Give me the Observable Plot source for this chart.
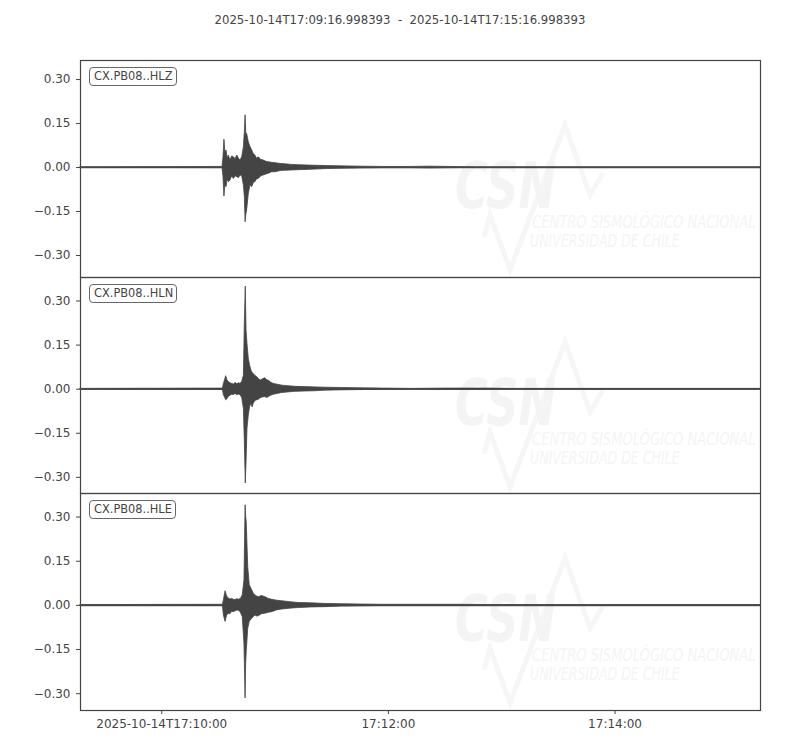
<!DOCTYPE html>
<html><head><meta charset="utf-8">
<script src="https://cdn.jsdelivr.net/npm/d3@7"></script>
<script src="https://cdn.jsdelivr.net/npm/@observablehq/plot@0.6"></script>
<style>
body{margin:0;background:#fff;font-family:"DejaVu Sans",sans-serif;}
#wrap{position:relative;width:800px;height:750px;overflow:hidden;}
#title{position:absolute;top:13px;left:0;width:800px;text-align:center;font-size:11.7px;color:#444;white-space:pre;}
.panel{position:absolute;left:0;z-index:1;}
.wm{position:absolute;left:0;z-index:0;}
.lbl{position:absolute;left:89px;z-index:2;border:1.3px solid #666;border-radius:4px;background:#fff;color:#444;font-size:11.4px;line-height:17px;padding:0 3px 0 4px;font-family:"DejaVu Sans",sans-serif;}
</style></head><body>
<div id="wrap"><div id="title"></div></div>
<script>
// ---- data ----
const startTime = "2025-10-14T17:09:16.998393";
const endTime = "2025-10-14T17:15:16.998393";
const channels = ["CX.PB08..HLZ", "CX.PB08..HLN", "CX.PB08..HLE"];
const xTickTimes = ["2025-10-14T17:10:00", "2025-10-14T17:12:00", "2025-10-14T17:14:00"];
const xTickLabels = ["2025-10-14T17:10:00", "17:12:00", "17:14:00"];
const yTicks = [-0.30, -0.15, 0.00, 0.15, 0.30];
const yDomains = [[-0.375, 0.365], [-0.355, 0.38], [-0.357, 0.38]];

// envelope of each trace: seconds after start, max and min amplitude
const hlzTime = [0,75.2,75.7,76.2,76.7,77.3,77.9,78.5,79.4,80.3,81.2,82.1,83.0,83.9,84.7,85.6,86.5,87.0,87.4,87.8,88.2,89.1,90.0,90.9,91.8,92.6,93.5,94.4,95.7,97.0,98.3,99.7,101.5,103.2,106,108.5,112,115.6,120,124.4,131,137.6,148,160,175,185,196,210,360];
const hlzMax  = [0.001,0.002,0.035,0.095,0.050,0.058,0.030,0.041,0.024,0.038,0.035,0.028,0.041,0.030,0.024,0.035,0.069,0.120,0.178,0.110,0.115,0.086,0.070,0.058,0.045,0.041,0.030,0.035,0.026,0.024,0.020,0.018,0.016,0.015,0.012,0.011,0.009,0.008,0.007,0.006,0.005,0.004,0.003,0.002,0.002,0.003,0.002,0.001,0.001];
const hlzMin  = [-0.001,-0.002,-0.033,-0.099,-0.060,-0.067,-0.040,-0.050,-0.044,-0.030,-0.039,-0.030,-0.033,-0.036,-0.027,-0.030,-0.061,-0.100,-0.187,-0.160,-0.147,-0.090,-0.060,-0.067,-0.052,-0.050,-0.040,-0.039,-0.030,-0.027,-0.024,-0.021,-0.016,-0.016,-0.012,-0.011,-0.010,-0.009,-0.008,-0.007,-0.005,-0.004,-0.003,-0.002,-0.002,-0.003,-0.002,-0.001,-0.001];

const hlnTime = [0,75.4,75.9,76.5,77.1,77.8,78.5,79.4,80.3,81.2,82.1,83.0,83.9,84.7,85.6,86.5,87.0,87.5,87.9,88.4,89.1,89.8,90.5,91.1,91.7,92.6,93.5,94.4,95.3,96.6,97.9,98.8,99.7,101,102.3,104.5,106.8,110,113.8,119,124.4,129.7,138,148,160,175,195,215,230,360];
const hlnMax  = [0.001,0.002,0.018,0.030,0.044,0.030,0.024,0.020,0.018,0.016,0.021,0.017,0.020,0.018,0.025,0.046,0.227,0.349,0.200,0.154,0.103,0.080,0.063,0.055,0.052,0.045,0.041,0.035,0.029,0.034,0.037,0.030,0.029,0.022,0.018,0.015,0.012,0.010,0.008,0.007,0.006,0.005,0.004,0.003,0.002,0.001,0.002,0.002,0.001,0.001];
const hlnMin  = [-0.001,-0.002,-0.021,-0.028,-0.038,-0.034,-0.027,-0.022,-0.019,-0.020,-0.016,-0.021,-0.018,-0.021,-0.030,-0.067,-0.180,-0.321,-0.250,-0.135,-0.089,-0.060,-0.050,-0.062,-0.050,-0.040,-0.038,-0.036,-0.031,-0.028,-0.027,-0.030,-0.027,-0.022,-0.019,-0.016,-0.013,-0.011,-0.009,-0.008,-0.007,-0.005,-0.004,-0.003,-0.002,-0.001,-0.002,-0.002,-0.001,-0.001];

const hleTime = [0,75.4,75.9,76.8,77.6,78.5,79.4,80.3,81.2,82.1,83.0,83.8,84.9,85.9,86.8,87.4,87.7,88.0,88.8,89.6,90.9,91.7,92.6,93.5,94.4,96.0,97.9,99.7,101.5,104,106.8,111,115.6,122,129.7,138,148,160,175,200,220,360];
const hleMax  = [0.001,0.002,0.017,0.048,0.030,0.023,0.020,0.022,0.019,0.018,0.021,0.019,0.022,0.034,0.085,0.340,0.300,0.282,0.130,0.068,0.051,0.040,0.034,0.030,0.028,0.032,0.028,0.022,0.019,0.016,0.014,0.011,0.008,0.007,0.005,0.004,0.003,0.002,0.002,0.002,0.001,0.001];
const hleMin  = [-0.001,-0.002,-0.034,-0.056,-0.035,-0.028,-0.030,-0.022,-0.023,-0.020,-0.018,-0.017,-0.025,-0.040,-0.130,-0.316,-0.200,-0.158,-0.079,-0.056,-0.045,-0.040,-0.034,-0.038,-0.037,-0.030,-0.028,-0.025,-0.023,-0.017,-0.014,-0.011,-0.009,-0.007,-0.006,-0.004,-0.003,-0.002,-0.002,-0.002,-0.001,-0.001];

const watermarkLines = ["CSN", "CENTRO SISMOLÓGICO NACIONAL", "UNIVERSIDAD DE CHILE"];

// ---- build ----
const t0 = new Date(startTime.slice(0, 23) + "Z");
const t1 = new Date(endTime.slice(0, 23) + "Z");
const toDate = s => new Date(t0.getTime() + s * 1000);
const traces = [
  {time: hlzTime, hi: hlzMax, lo: hlzMin},
  {time: hlnTime, hi: hlnMax, lo: hlnMin},
  {time: hleTime, hi: hleMax, lo: hleMin}
];
const xTicks = xTickTimes.map(s => new Date(s + "Z"));

document.getElementById("title").textContent = startTime + "  -  " + endTime;

const wrap = document.getElementById("wrap");
const panelTops = [60, 277, 493];
const panelHeights = [217, 216, 217];

traces.forEach((tr, k) => {
  const rows = tr.time.map((s, i) => ({t: toDate(s), hi: tr.hi[i], lo: tr.lo[i]}));
  const last = k === traces.length - 1;
  const mb = last ? 41 : 1;
  const plot = Plot.plot({
    width: 800,
    height: panelHeights[k] + 1 + mb,
    marginLeft: 80, marginRight: 40, marginTop: 1, marginBottom: mb,
    style: {fontSize: "12px", fontFamily: "DejaVu Sans, sans-serif", color: "#444", background: "transparent", overflow: "visible"},
    x: {type: "utc", domain: [t0, t1]},
    y: {domain: yDomains[k]},
    marks: [
      Plot.ruleY([0], {stroke: "#5a5a5a", strokeWidth: 1.6}),
      Plot.areaY(rows, {x: "t", y1: "lo", y2: "hi", fill: "#444", stroke: "#444", strokeWidth: 0.8, curve: "linear"}),
      Plot.axisY(yTicks, {tickFormat: d3.format(".2f"), tickSize: 4, tickPadding: 6, label: null, stroke: "#444"}),
      last
        ? Plot.axisX(xTicks, {tickFormat: (d, i) => xTickLabels[i], tickSize: 4, tickPadding: 5, label: null, stroke: "#444"})
        : Plot.axisX({ticks: [], label: null}),
      Plot.frame({stroke: "#444", strokeWidth: 1.2})
    ]
  });
  // tick labels sized like the reference
  d3.select(plot).selectAll("g[aria-label$='tick label'], g[aria-label$='tick label'] text")
    .attr("font-size", null)
    .style("font-size", "12px")
    .style("font-family", "'DejaVu Sans', sans-serif");
  plot.classList.add("panel");
  plot.style.top = (panelTops[k] - 1) + "px";
  wrap.appendChild(plot);

  // faint watermark logo behind the trace
  const wm = d3.select(wrap).append("svg").attr("class", "wm")
    .attr("width", 800).attr("height", panelHeights[k])
    .style("top", panelTops[k] + "px");
  wm.append("polyline")
    .attr("points", "484,177 490,155 510,210 565,65 590,135 603,113")
    .attr("fill", "none").attr("stroke", "#f6f6f6").attr("stroke-width", 5);
  const g = wm.append("g").attr("fill", "#f4f4f4").attr("font-family", "DejaVu Sans, sans-serif").attr("font-style", "italic");
  g.append("text").attr("transform", "translate(455,148) scale(0.70,1)").attr("font-size", 64).attr("font-weight", "bold")
    .text(watermarkLines[0]);
  g.append("text").attr("transform", "translate(532,168) scale(0.77,1)").attr("font-size", 17)
    .text(watermarkLines[1]);
  g.append("text").attr("transform", "translate(530,187) scale(0.74,1)").attr("font-size", 17)
    .text(watermarkLines[2]);

  const lbl = document.createElement("div");
  lbl.className = "lbl";
  lbl.textContent = channels[k];
  lbl.style.top = (panelTops[k] + 7) + "px";
  wrap.appendChild(lbl);
});
</script>
</body></html>
